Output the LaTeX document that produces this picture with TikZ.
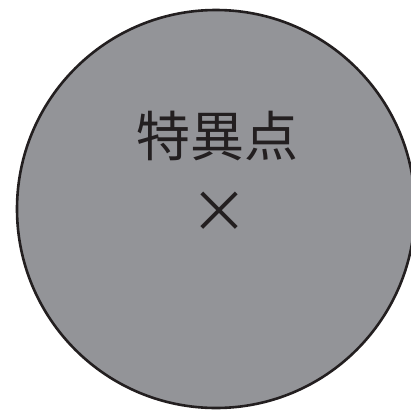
\documentclass[tikz,border=0pt]{standalone}
\usepackage{fontspec}
\newfontfamily\jpfont{Noto Sans CJK JP}
\usetikzlibrary{positioning}
\definecolor{disk}{RGB}{147,148,152}
\definecolor{ink}{RGB}{35,31,32}
\begin{document}
\begin{tikzpicture}[
          x=1pt, y=-1pt,
          disc/.style={circle, draw=ink, fill=disk, line width=2.6pt,
                       minimum size=398pt, inner sep=0pt},
          lbl/.style={text=ink, font=\jpfont\fontsize{54}{54}\selectfont, inner sep=0pt}
        ]
        \useasboundingbox (0,0) rectangle (411,413);
        \node[disc] (sing) at (216,209) {};
        \node[lbl] (name) at (217,136) {特異点};
        \node[lbl, font=\jpfont\fontsize{58}{58}\selectfont] (mark) at (219,212) {×};
      \end{tikzpicture}
\end{document}
